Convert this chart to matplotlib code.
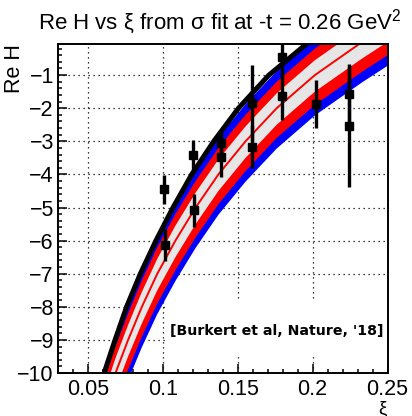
import numpy as np
import matplotlib
matplotlib.use("Agg")
import matplotlib.pyplot as plt
from matplotlib.ticker import MultipleLocator, FixedLocator
from matplotlib.patches import Rectangle

plt.rcParams['font.family'] = ['Liberation Sans', 'DejaVu Sans']
plt.rcParams['mathtext.fontset'] = 'custom'
plt.rcParams['mathtext.rm'] = 'Liberation Sans'
plt.rcParams['mathtext.default'] = 'regular'

# --- fit curve (thin red line) ---
xi_fit = np.array([0.0573, 0.0684, 0.0768, 0.0860, 0.0963, 0.1084, 0.1219,
                   0.1371, 0.1552, 0.1760, 0.2015, 0.2330, 0.2670])
reh_fit = np.array([-11.5, -10, -9, -8, -7, -6, -5, -4, -3, -2, -1, 0, 1])

# band edges relative to the fit curve (ReH units)
grey_up, grey_dn = 0.45, 0.50
red_up, red_dn = 0.80, 0.90
blue_up, blue_dn = 1.12, 1.22

# --- black curve ---
xi_blk = np.array([0.0575, 0.0608, 0.0681, 0.0758, 0.0850, 0.0954, 0.1068,
                   0.1193, 0.1340, 0.1505, 0.1708, 0.1975, 0.2125])
reh_blk = np.array([-10.5, -10, -9, -8, -7, -6, -5, -4, -3, -2, -1, 0, 0.5])

# --- data points ---
xi_pts = [0.101, 0.1015, 0.120, 0.1205, 0.139, 0.139, 0.1595, 0.1595,
          0.1797, 0.1797, 0.2022, 0.2246, 0.2246]
reh_pts = [-4.45, -6.14, -3.42, -5.08, -3.06, -3.47, -1.85, -3.17,
           -0.45, -1.63, -1.88, -1.57, -2.53]
err_pts = [0.43, 0.48, 0.45, 0.50, 0.30, 0.60, 1.15, 0.65,
           0.70, 0.73, 0.72, 0.92, 1.84]

x_ticks = [0.05, 0.1, 0.15, 0.2, 0.25]
x_ticklabels = ['0.05', '0.1', '0.15', '0.2', '0.25']
y_ticks = list(range(-10, 0))

fig = plt.figure(figsize=(4.12, 4.16), dpi=100)
ax = fig.add_axes([58 / 412, 43 / 416, 329.5 / 412, 329 / 416])
ax.set_xlim(0.03, 0.25)
ax.set_ylim(-10, -0.06)

ax.set_axisbelow(True)
ax.grid(True, which='major', color='k', linestyle=(0, (1, 3)), lw=0.9)

# white box behind the reference text
ax.add_patch(Rectangle((0.328, 0.055), 0.672, 0.167, transform=ax.transAxes,
                       facecolor='white', edgecolor='none', zorder=0.8))
ax.text(0.34, 0.115, "[Burkert et al, Nature, '18]", transform=ax.transAxes,
        fontsize=10.2, fontweight='bold', family='DejaVu Sans', zorder=5)

ax.fill_between(xi_fit, reh_fit - blue_dn, reh_fit + blue_up, color='#0000ff', lw=0, zorder=1)
ax.fill_between(xi_fit, reh_fit - red_dn, reh_fit + red_up, color='#ff0000', lw=0, zorder=1.1)
ax.fill_between(xi_fit, reh_fit - grey_dn, reh_fit + grey_up, color='#e6e6e6', lw=0, zorder=1.2)
ax.plot(xi_fit, reh_fit, color='#ff0000', lw=1.4, zorder=1.3)
ax.plot(xi_blk, reh_blk, color='k', lw=3.6, zorder=1.4)

ax.errorbar(xi_pts, reh_pts, yerr=err_pts, fmt='s', color='k', ms=6,
            elinewidth=2.4, capsize=0, zorder=3)

ax.xaxis.set_major_locator(FixedLocator(x_ticks))
ax.set_xticklabels(x_ticklabels)
ax.xaxis.set_minor_locator(MultipleLocator(0.01))
ax.set_yticks(y_ticks)
ax.yaxis.set_minor_locator(MultipleLocator(0.2))
ax.tick_params(which='both', direction='in', top=False, right=False, width=1.1)
ax.tick_params(which='major', length=6.5, labelsize=15.5)
ax.tick_params(axis='x', which='major', pad=4)
ax.tick_params(axis='y', which='major', pad=3)
ax.tick_params(which='minor', length=3.2)
for s in ax.spines.values():
    s.set_linewidth(1.4)
    s.set_zorder(4)

fig.text(0.533, 0.9296, r'Re H vs ξ from σ fit at -t = 0.26 GeV$^{2}$',
         fontsize=16, ha='center', va='baseline')
fig.text(15 / 412, (416 - 44) / 416, 'Re H', rotation=90, ha='center', va='top',
         fontsize=15.5)
fig.text(387 / 412, (416 - 413) / 416, 'ξ', ha='right', va='baseline', fontsize=13.5)

fig.savefig('out.png', dpi=100)
